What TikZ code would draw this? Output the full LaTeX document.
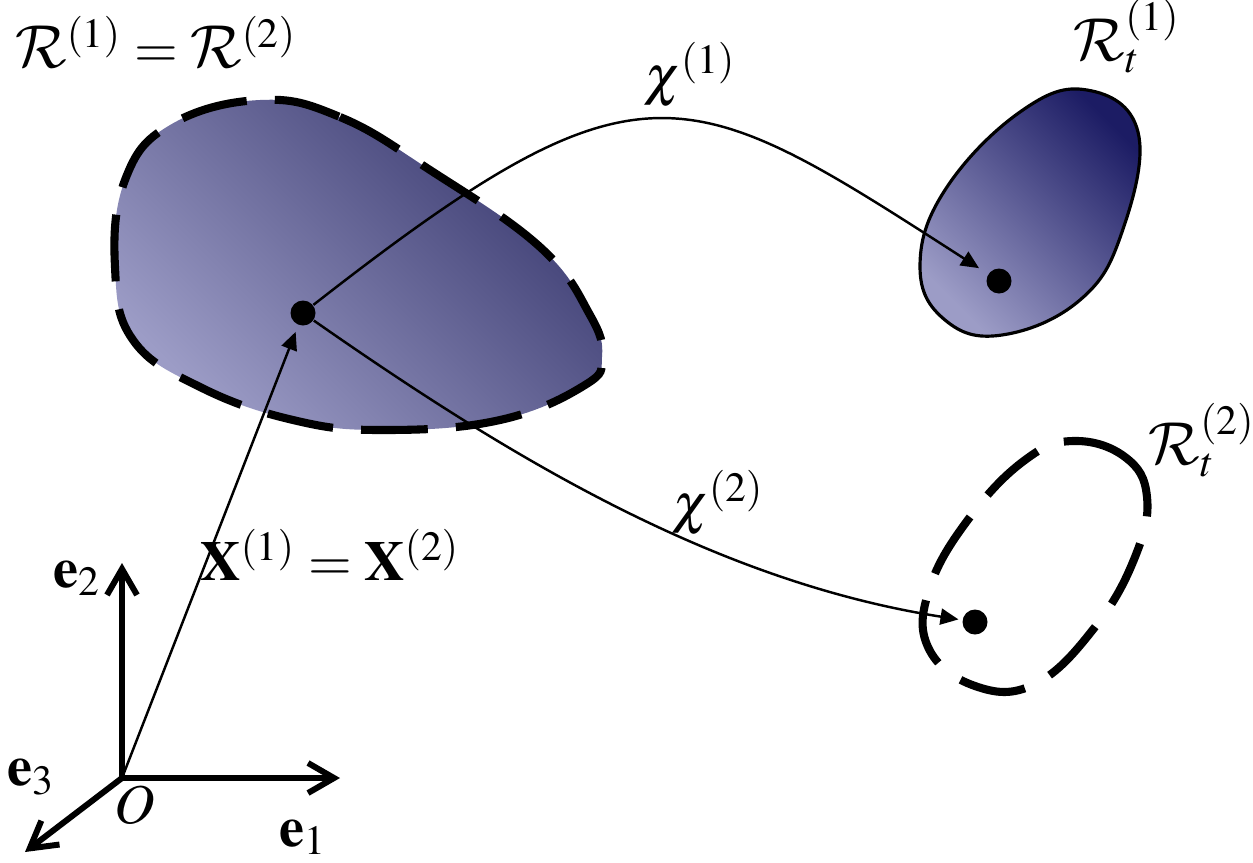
\documentclass[tikz,border=0pt]{standalone}
\usepackage{amsmath,amssymb}
\usepackage{mathptmx}
\DeclareMathAlphabet{\mathcal}{OMS}{cmsy}{m}{n}
\usepackage{tikz}
\usetikzlibrary{positioning,arrows.meta,calc}

\definecolor{regionlight}{RGB}{156,156,198}
\definecolor{regiondark}{RGB}{58,58,112}
\definecolor{regionnavy}{RGB}{28,28,100}

\begin{document}
\begin{tikzpicture}[
    dot/.style={circle, fill=black, inner sep=0pt, minimum size=0.25cm},
    lbl/.style={inner sep=0pt, font=\fontsize{16}{19}\selectfont},
    axis/.style={line width=1.7pt},
    >={Straight Barb[length=2.6mm, width=3mm]},
    map/.style={line width=0.7pt, -{Triangle[length=1.8mm, width=1.6mm]}},
    boundary/.style={line width=2.3pt, dash pattern=on 19pt off 8pt}
  ]
    \useasboundingbox (0,0) rectangle (12.53,8.62);

    % reference region
    \draw[boundary, top color=regiondark, bottom color=regionlight, shading angle=-45]
      plot[smooth cycle, tension=0.7] coordinates {(2.60,7.62) (3.40,7.45) (4.30,6.92) (5.40,6.15)
        (5.90,5.47) (6.02,5.05) (5.85,4.77) (5.00,4.42) (3.83,4.32) (2.93,4.42) (2.00,4.75)
        (1.33,5.22) (1.15,5.95) (1.25,6.82) (1.70,7.37)};

    % current regions
    \draw[line width=0.9pt, top color=regionnavy, bottom color=regionlight, shading angle=-45]
      plot[smooth cycle, tension=0.7] coordinates {(10.87,7.72) (11.38,7.30) (11.22,6.30)
        (10.80,5.62) (10.02,5.27) (9.45,5.42) (9.20,5.95) (9.45,6.72) (10.20,7.50)};
    \draw[boundary]
      plot[smooth cycle, tension=0.7] coordinates {(10.73,4.21) (11.25,4.05) (11.47,3.65)
        (11.35,3.05) (10.95,2.35) (10.35,1.78) (9.75,1.76) (9.28,2.15) (9.30,2.75)
        (9.70,3.45) (10.25,4.02)};

    \node[dot] (pA) at (3.03,5.49) {};
    \node[dot] (pB) at (9.99,5.81) {};
    \node[dot] (pC) at (9.75,2.40) {};

    % frame
    \coordinate (O) at (1.22,0.84);
    \coordinate (e1end) at (3.40,0.84);
    \coordinate (e2end) at (1.22,2.99);
    \coordinate (e3end) at (0.25,0.10);
    \draw[axis, <->] (e2end) -- (O) -- (e1end);
    \draw[axis, ->] (O) -- (e3end);

    \draw[map, shorten >=2pt] (O) -- (pA);
    \draw[map, shorten >=3pt] (pA) .. controls (6.42,8.14) and (6.85,7.83) .. (pB);
    \draw[map, shorten >=1pt] (pA) .. controls (5.08,4.06) and (7.13,2.81) .. (pC);

    \node[lbl] (lblR) at (1.56,8.20) {$\mathcal{R}^{(1)} = \mathcal{R}^{(2)}$};
    \node[lbl] (lblRt1) at (11.27,8.26) {$\mathcal{R}_t^{(1)}$};
    \node[lbl] (lblRt2) at (12.02,4.22) {$\mathcal{R}_t^{(2)}$};
    \node[lbl] (lblchi1) at (6.90,7.87) {$\chi^{(1)}$};
    \node[lbl] (lblchi2) at (7.18,3.59) {$\chi^{(2)}$};
    \node[lbl] (lblX) at (3.30,3.07) {$\mathbf{X}^{(1)} = \mathbf{X}^{(2)}$};
    \node[lbl] (lble1) at (3.03,0.25) {$\mathbf{e}_1$};
    \node[lbl] (lble2) at (0.77,2.84) {$\mathbf{e}_2$};
    \node[lbl] (lble3) at (0.31,0.85) {$\mathbf{e}_3$};
    \node[lbl] (lblO) at (1.35,0.57) {$O$};
\end{tikzpicture}
\end{document}
